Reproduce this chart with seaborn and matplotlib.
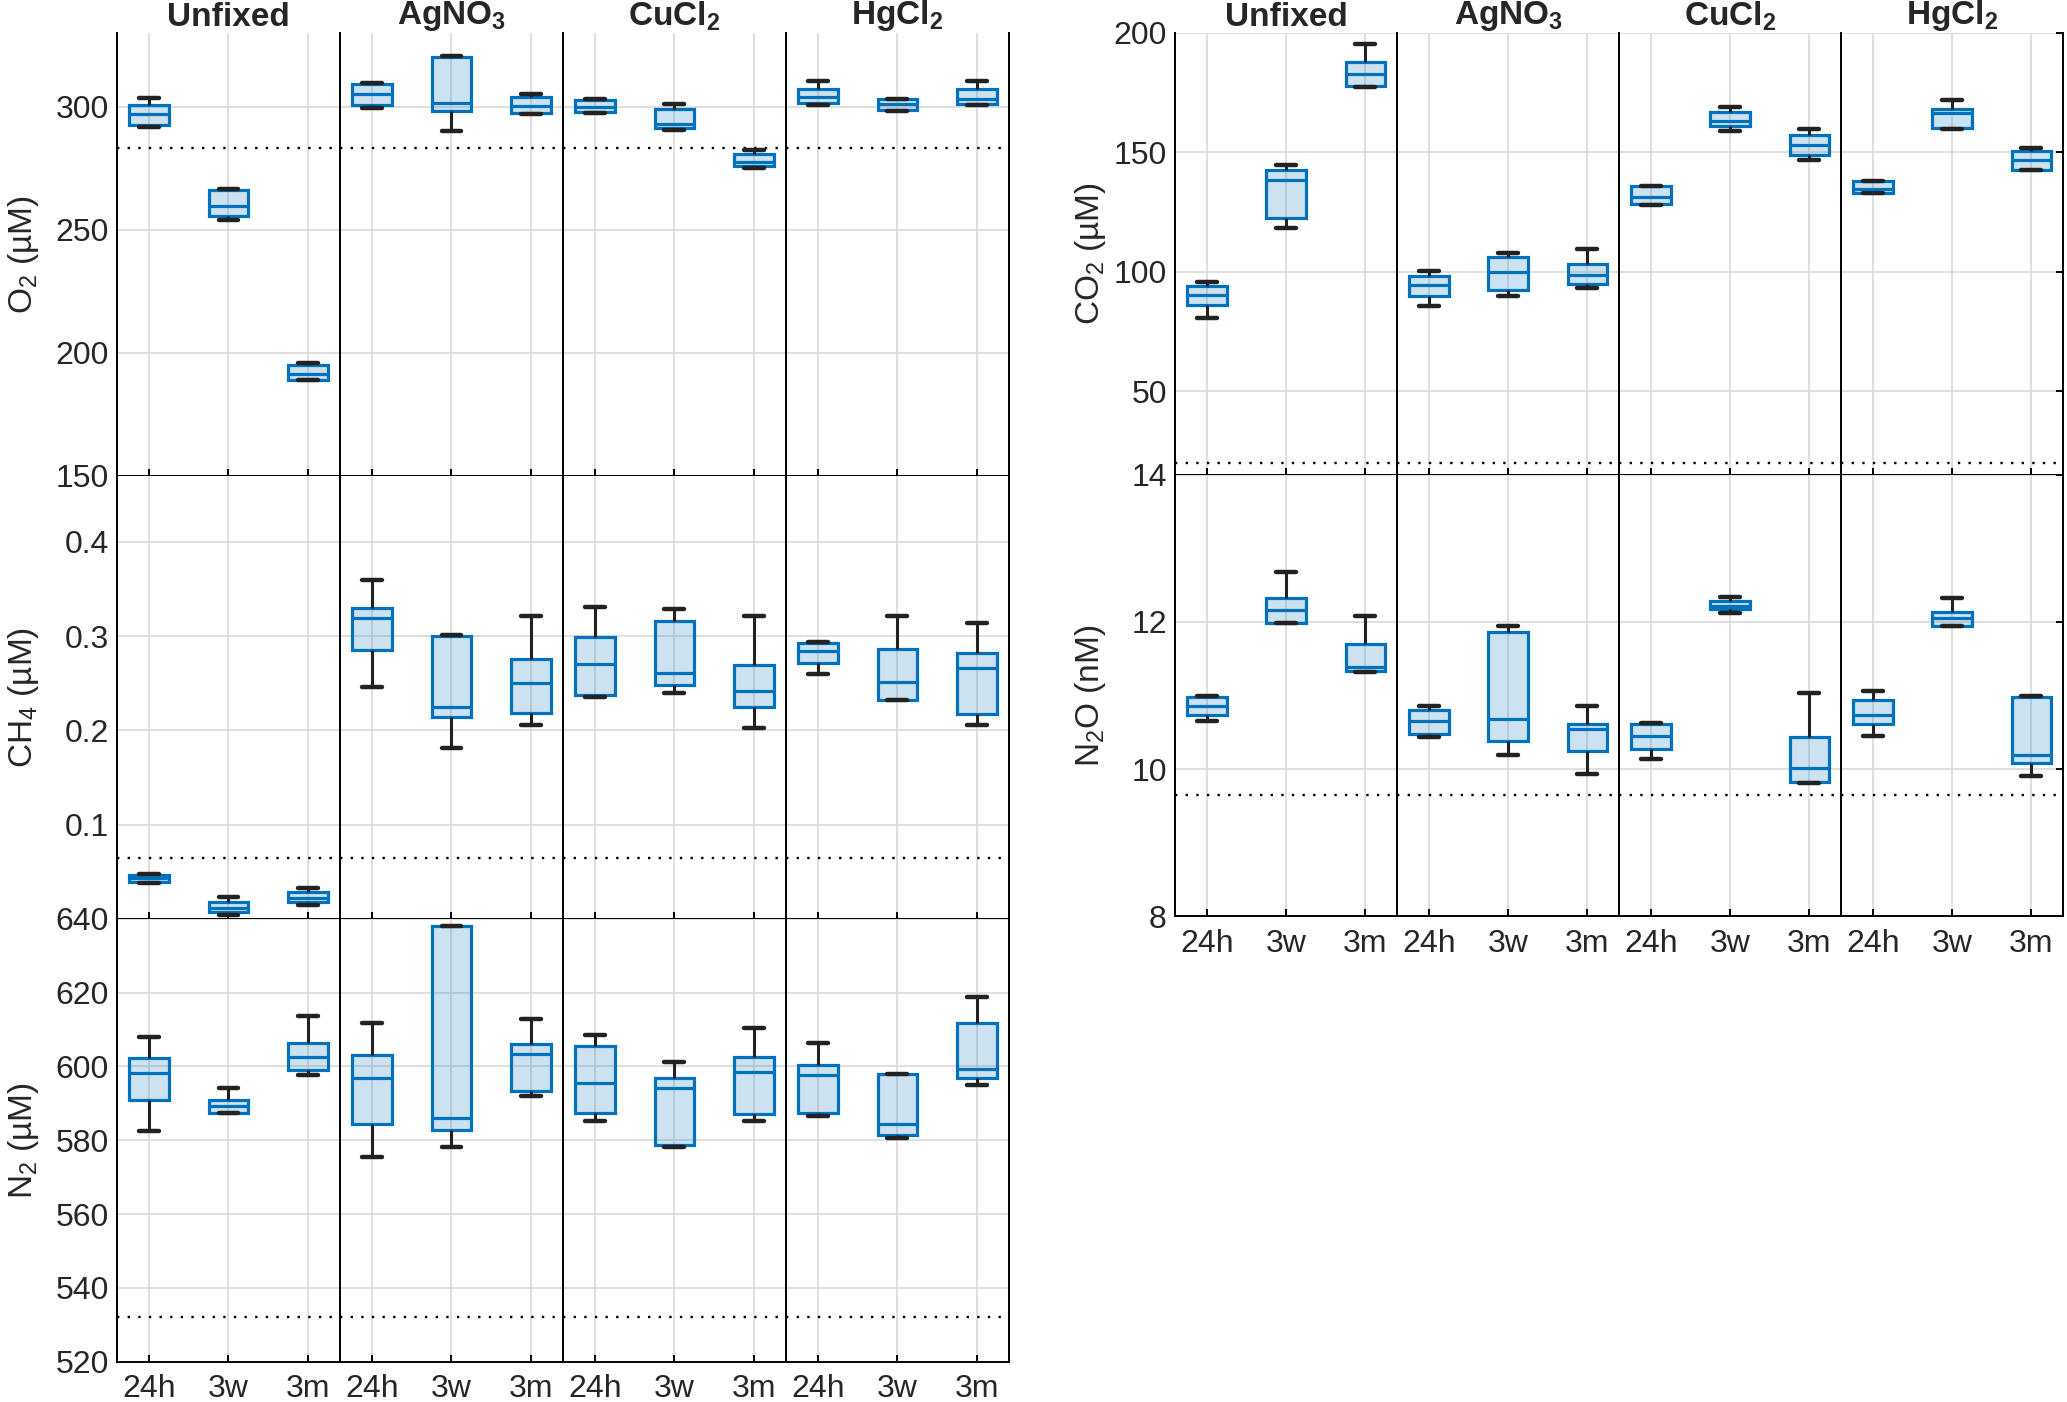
import matplotlib
matplotlib.use('Agg')
import matplotlib.pyplot as plt
import numpy as np
import pandas as pd
import seaborn as sns

# ---- data: [min, q1, median, q3, max] per box ----
treatments = ['Unfixed', 'AgNO$_3$', 'CuCl$_2$', 'HgCl$_2$']
times = ['24h', '3w', '3m']

# order: Unfixed(24h,3w,3m), AgNO3(...), CuCl2(...), HgCl2(...)
o2 = [
    [291.6, 292.6, 297.0, 300.8, 303.4], [254.0, 255.7, 259.6, 266.3, 266.7], [188.8, 189.0, 191.6, 195.0, 196.0],
    [299.6, 300.9, 305.0, 309.2, 309.5], [290.0, 298.2, 301.5, 320.3, 320.5], [297.0, 297.5, 300.5, 304.1, 305.0],
    [297.6, 298.0, 300.0, 302.9, 303.3], [290.5, 291.3, 293.2, 298.9, 301.0], [275.1, 275.8, 277.6, 280.7, 282.6],
    [300.7, 301.5, 304.1, 307.2, 310.6], [298.4, 298.5, 301.2, 303.0, 303.1], [300.9, 301.0, 303.2, 307.2, 310.5],
]
ch4 = [
    [0.038, 0.0395, 0.0435, 0.047, 0.0475], [0.0043, 0.0068, 0.0114, 0.0181, 0.0227], [0.0146, 0.0174, 0.0224, 0.028, 0.033],
    [0.246, 0.2856, 0.3192, 0.330, 0.360], [0.181, 0.2144, 0.2247, 0.3001, 0.3012], [0.206, 0.2186, 0.250, 0.2757, 0.321],
    [0.235, 0.2371, 0.270, 0.299, 0.3306], [0.240, 0.2477, 0.2604, 0.3164, 0.3292], [0.2027, 0.2247, 0.242, 0.2696, 0.321],
    [0.260, 0.2714, 0.2845, 0.293, 0.2935], [0.232, 0.2325, 0.2512, 0.2859, 0.321], [0.206, 0.2169, 0.2665, 0.282, 0.3143],
]
n2 = [
    [582.6, 590.8, 598.3, 602.3, 608.0], [587.3, 587.4, 589.2, 590.9, 594.2], [597.6, 599.0, 602.7, 606.3, 613.6],
    [575.5, 584.4, 596.8, 603.1, 611.9], [578.1, 582.7, 586.0, 638.0, 638.1], [592.1, 593.4, 603.5, 606.0, 612.8],
    [585.1, 587.5, 595.4, 605.5, 608.5], [578.1, 578.7, 594.2, 596.8, 601.1], [585.3, 587.1, 598.4, 602.7, 610.4],
    [586.7, 587.3, 597.7, 600.4, 606.4], [580.5, 581.3, 584.4, 597.9, 598.0], [595.1, 596.8, 599.2, 611.8, 618.8],
]
co2 = [
    [80.5, 86.1, 90.3, 94.0, 95.6], [118.2, 122.4, 138.3, 142.5, 144.6], [177.2, 177.9, 182.9, 187.8, 195.5],
    [85.8, 90.0, 94.4, 98.4, 100.3], [89.8, 92.2, 99.9, 106.1, 107.7], [93.2, 95.0, 98.5, 103.3, 109.5],
    [128.0, 128.3, 131.5, 135.7, 136.0], [158.8, 161.1, 163.2, 167.1, 169.0], [146.9, 148.8, 152.9, 157.1, 159.7],
    [133.0, 133.1, 134.7, 138.1, 138.2], [159.9, 160.2, 166.4, 168.3, 172.0], [142.4, 142.5, 146.6, 150.5, 152.0],
]
n2o = [
    [10.66, 10.74, 10.86, 10.98, 10.99], [11.98, 11.99, 12.16, 12.32, 12.68], [11.32, 11.33, 11.39, 11.70, 12.08],
    [10.44, 10.48, 10.65, 10.81, 10.86], [10.19, 10.39, 10.68, 11.86, 11.95], [9.93, 10.25, 10.55, 10.62, 10.86],
    [10.14, 10.27, 10.45, 10.62, 10.63], [12.12, 12.17, 12.22, 12.29, 12.34], [9.81, 9.82, 10.02, 10.44, 11.04],
    [10.45, 10.61, 10.74, 10.94, 11.06], [11.95, 11.95, 12.05, 12.14, 12.33], [9.91, 10.09, 10.19, 10.98, 10.99],
]

# dotted reference levels
ref_o2, ref_ch4, ref_n2, ref_co2, ref_n2o = 283.2, 0.065, 532.0, 20.0, 9.65

# ---- style ----
sns.set_style('white')
plt.rcParams['font.family'] = ['Liberation Sans', 'DejaVu Sans']
plt.rcParams['mathtext.fontset'] = 'custom'
plt.rcParams['mathtext.rm'] = 'Liberation Sans'
plt.rcParams['mathtext.it'] = 'Liberation Sans:italic'
plt.rcParams['mathtext.bf'] = 'Liberation Sans:bold'

blue = '#0072BD'
face = (0.0, 0.447, 0.741, 0.2)
dark = '#222222'
gridc = '#dcdcdc'

fig = plt.figure(figsize=(20.67, 14.02), dpi=100)
gs_l = fig.add_gridspec(3, 4, left=0.0566, right=0.4881, top=0.9765, bottom=0.0287, wspace=0, hspace=0)
gs_r = fig.add_gridspec(2, 4, left=0.5685, right=0.9981, top=0.9765, bottom=0.3463, wspace=0, hspace=0)

# (grid, row, stats, ylim, yticks, yticklabels, ref, ylabel, last row?, label x)
panels = [
    (gs_l, 0, o2, (150, 330), [150, 200, 250, 300], None, ref_o2, r'O$_2$ (µM)', False, -0.34),
    (gs_l, 1, ch4, (0, 0.47), [0, 0.1, 0.2, 0.3, 0.4], ['', '0.1', '0.2', '0.3', '0.4'], ref_ch4, r'CH$_4$ (µM)', False, -0.34),
    (gs_l, 2, n2, (520, 640), [520, 540, 560, 580, 600, 620, 640], None, ref_n2, r'N$_2$ (µM)', True, -0.34),
    (gs_r, 0, co2, (15, 200), [50, 100, 150, 200], None, ref_co2, r'CO$_2$ (µM)', False, -0.30),
    (gs_r, 1, n2o, (8, 14), [8, 10, 12, 14], None, ref_n2o, r'N$_2$O (nM)', True, -0.30),
]

for gs, row, stats, ylim, yticks, ylabels, ref, ylabel, last, lx in panels:
    for j, treat in enumerate(treatments):
        ax = fig.add_subplot(gs[row, j])
        df = pd.DataFrame({
            'time': np.repeat(times, 5),
            'value': np.concatenate(stats[3 * j:3 * j + 3]),
        })
        sns.boxplot(data=df, x='time', y='value', order=times, ax=ax,
                    width=0.5, whis=(0, 100), fliersize=0, saturation=1,
                    color='#cce3f2', linecolor=blue, linewidth=2.3,
                    boxprops={'facecolor': face, 'edgecolor': blue},
                    medianprops={'color': blue, 'linewidth': 2.3},
                    whiskerprops={'color': dark, 'linewidth': 2.2},
                    capprops={'color': dark, 'linewidth': 3.2},
                    capwidths=0.25)
        ax.axhline(ref, color='black', ls=(0, (1, 3.5)), lw=1.7, zorder=1)

        ax.set_xlim(-0.4, 2.4)
        ax.set_ylim(*ylim)
        ax.set_yticks(yticks)
        if ylabels is not None:
            ax.set_yticklabels(ylabels)
        ax.set_xticks(range(3))
        ax.set_xticklabels(times)
        ax.grid(True, color=gridc, lw=1.3)
        ax.set_axisbelow(True)
        ax.set_xlabel('')
        ax.set_ylabel('')

        for side in ['left', 'bottom', 'right', 'top']:
            ax.spines[side].set_color('black')
            ax.spines[side].set_linewidth(1.4)
        ax.spines['top'].set_visible(False)
        ax.spines['right'].set_visible(j == 3)

        ax.tick_params(axis='both', direction='in', length=5, width=1.4, color='black',
                       labelsize=23, labelcolor='#262626')
        ax.tick_params(axis='y', pad=6, labelleft=(j == 0),
                       right=(j == 3 and gs is gs_r))
        ax.tick_params(axis='x', pad=9, bottom=True, labelbottom=last)

        if j == 0:
            ax.set_ylabel(ylabel, fontsize=24, color='#262626')
            ax.yaxis.set_label_coords(lx, 0.5)
        if row == 0:
            ax.set_title(r'$\mathbf{' + treat.replace('$', '') + '}$' if '$' in treat else treat,
                         fontsize=24, fontweight='bold', pad=4)

fig.savefig('out.png', dpi=100)
